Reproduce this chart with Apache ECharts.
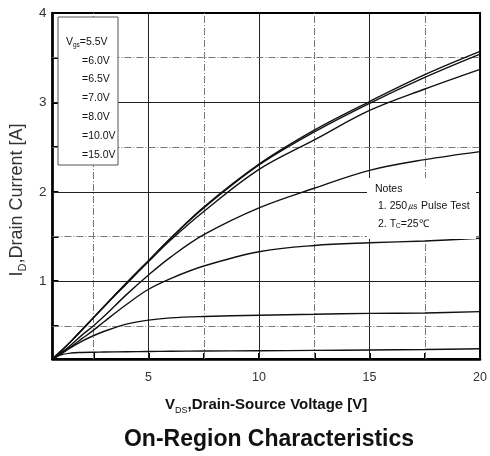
<!DOCTYPE html>
<html><head><meta charset="utf-8">
<script src="https://cdn.jsdelivr.net/npm/echarts@6/dist/echarts.min.js"></script>
<style>html,body{margin:0;padding:0;background:#fff}#c{width:490px;height:456px}</style>
</head><body><div id="c"></div>
<script>
// Drain-source voltage sample points [V]
const vds = [0.65, 1, 1.5, 2, 2.5, 3, 4, 5, 6, 7.5, 10, 12.5, 15, 17.5, 20];
// Drain current [A] per gate voltage
const id_vgs15_0 = [0.13, 0.21, 0.33, 0.46, 0.59, 0.72, 0.98, 1.23, 1.48, 1.83, 2.31, 2.69, 3.01, 3.31, 3.57];
const id_vgs10_0 = [0.13, 0.21, 0.33, 0.46, 0.59, 0.72, 0.98, 1.23, 1.48, 1.82, 2.30, 2.67, 2.99, 3.28, 3.54];
const id_vgs8_0  = [0.13, 0.21, 0.33, 0.46, 0.59, 0.72, 0.97, 1.22, 1.46, 1.78, 2.25, 2.58, 2.91, 3.15, 3.37];
const id_vgs7_0  = [0.13, 0.19, 0.29, 0.40, 0.50, 0.61, 0.85, 1.07, 1.27, 1.52, 1.82, 2.04, 2.24, 2.36, 2.45];
const id_vgs6_5  = [0.13, 0.19, 0.27, 0.36, 0.45, 0.55, 0.74, 0.91, 1.03, 1.17, 1.33, 1.40, 1.43, 1.45, 1.48];
const id_vgs6_0  = [0.13, 0.18, 0.26, 0.33, 0.39, 0.44, 0.52, 0.565, 0.59, 0.605, 0.62, 0.63, 0.64, 0.645, 0.66];
const id_vgs5_5  = [0.13, 0.175, 0.197, 0.203, 0.206, 0.208, 0.211, 0.214, 0.216, 0.219, 0.222, 0.226, 0.23, 0.236, 0.245];
const curves = [id_vgs5_5, id_vgs6_0, id_vgs6_5, id_vgs7_0, id_vgs8_0, id_vgs10_0, id_vgs15_0];
const vgsLabels = ['=5.5V', '=6.0V', '=6.5V', '=7.0V', '=8.0V', '=10.0V', '=15.0V'];
// Axis ticks / labels
const xTickLabels = [5, 10, 15, 20];
const xTicks = [2.5, 5, 7.5, 10, 12.5, 15, 17.5];
const yTickLabels = [1, 2, 3, 4];
const yTicks = [0.5, 1, 1.5, 2, 2.5, 3, 3.5];
const xMajorGrid = [5, 10, 15];
const xMinorGrid = [2.5, 7.5, 12.5, 17.5];
const yMajorGrid = [1, 2, 3];
const yMinorGrid = [0.5, 1.5, 2.5, 3.5];
const xRange = [0.65, 20];
const yRange = [0.13, 4];
const notes = ['Notes', '1. 250\u33B2 Pulse Test', '2. T{s|C}=25\u2103'];

const FONT = "'Liberation Sans', Arial, sans-serif";
const chart = echarts.init(document.getElementById('c'), null, {renderer: 'canvas'});

const majorStyle = {color: '#222', width: 1, type: 'solid'};
const minorStyle = {color: '#777', width: 1, type: [7, 2, 1, 2]};
const gridLines = [
  ...xMajorGrid.map(v => ({xAxis: v, lineStyle: majorStyle})),
  ...xMinorGrid.map(v => ({xAxis: v, lineStyle: minorStyle})),
  ...yMajorGrid.map(v => ({yAxis: v, lineStyle: majorStyle})),
  ...yMinorGrid.map(v => ({yAxis: v, lineStyle: minorStyle}))
];

const series = [{
  type: 'line', data: [], z: 1, silent: true,
  markLine: {silent: true, symbol: ['none', 'none'], label: {show: false}, animation: false, data: gridLines}
}].concat(curves.map((c, k) => ({
  type: 'line', name: vgsLabels[k], z: 5,
  data: vds.map((v, i) => [v, c[i]]),
  smooth: 0.35, showSymbol: false, symbol: 'none',
  lineStyle: {color: '#111', width: 1.4}, animation: false
})));

const legendItems = vgsLabels.map((t, i) => ({
  type: 'text', z: 60,
  x: i === 0 ? 66 : 82, y: 42 + i * 18.8,
  style: {
    text: i === 0 ? '{v|V}{s|gs}{v|' + t + '}' : t,
    font: '10.5px ' + FONT, fill: '#111', verticalAlign: 'middle',
    rich: {v: {fontSize: 10.5, fontFamily: FONT, color: '#111', lineHeight: 14}, s: {fontSize: 6.5, fontFamily: FONT, color: '#111', verticalAlign: 'bottom', lineHeight: 7}}
  }
}));
const noteItems = notes.map((t, i) => ({
  type: 'text', z: 60,
  x: i === 0 ? 375 : 378, y: 189 + i * 17.5,
  style: {
    text: t, font: '10.5px ' + FONT, fill: '#111', verticalAlign: 'middle',
    rich: {s: {fontSize: 6.5, fontFamily: FONT, color: '#111', verticalAlign: 'bottom', lineHeight: 7}}
  }
}));

chart.setOption({
  backgroundColor: '#fff',
  animation: false,
  title: {
    text: 'On-Region Characteristics', left: 264, top: 423, textAlign: 'center',
    textStyle: {fontFamily: FONT, fontSize: 23, fontWeight: 'bold', color: '#111'}
  },
  grid: {left: 49, right: 8, top: 13, bottom: 97, show: true, borderColor: '#000', borderWidth: 2, backgroundColor: '#fff'},
  xAxis: {
    type: 'value', min: xRange[0], max: xRange[1],
    name: '{v|V}{s|DS}{v|,Drain-Source Voltage [V]}', nameLocation: 'middle', nameGap: 36,
    nameTextStyle: {rich: {
      v: {fontFamily: FONT, fontSize: 15, fontWeight: 'bold', color: '#111', lineHeight: 20},
      s: {fontFamily: FONT, fontSize: 9, color: '#111', verticalAlign: 'bottom', lineHeight: 9}
    }},
    axisLine: {show: true, onZero: false, lineStyle: {color: '#000', width: 2.5}},
    axisTick: {show: true, inside: true, length: 6, customValues: xTicks, lineStyle: {color: '#000', width: 2}},
    axisLabel: {customValues: xTickLabels, margin: 12, fontFamily: FONT, fontSize: 12.5, color: '#333'},
    splitLine: {show: false}
  },
  yAxis: {
    type: 'value', min: yRange[0], max: yRange[1],
    name: '{v|I}{s|D}{v|,Drain Current [A]}', nameLocation: 'middle', nameGap: 24, nameRotate: 90,
    nameTextStyle: {padding: [0, 28, 0, 0], rich: {
      v: {fontFamily: FONT, fontSize: 18, color: '#333', lineHeight: 22},
      s: {fontFamily: FONT, fontSize: 11, color: '#333', verticalAlign: 'bottom', lineHeight: 11}
    }},
    axisLine: {show: true, onZero: false, lineStyle: {color: '#000', width: 2.5}},
    axisTick: {show: true, inside: true, length: 6, customValues: yTicks, lineStyle: {color: '#000', width: 2}},
    axisLabel: {customValues: yTickLabels, margin: 6, fontFamily: FONT, fontSize: 13.5, color: '#333'},
    splitLine: {show: false}
  },
  graphic: [
    {type: 'rect', z: 55, shape: {x: 58, y: 17, width: 60, height: 148}, style: {fill: '#fff', stroke: '#555', lineWidth: 1}},
    {type: 'rect', z: 55, shape: {x: 367, y: 178, width: 109, height: 61}, style: {fill: '#fff', stroke: null}}
  ].concat(legendItems, noteItems),
  series: series
});
</script></body></html>
